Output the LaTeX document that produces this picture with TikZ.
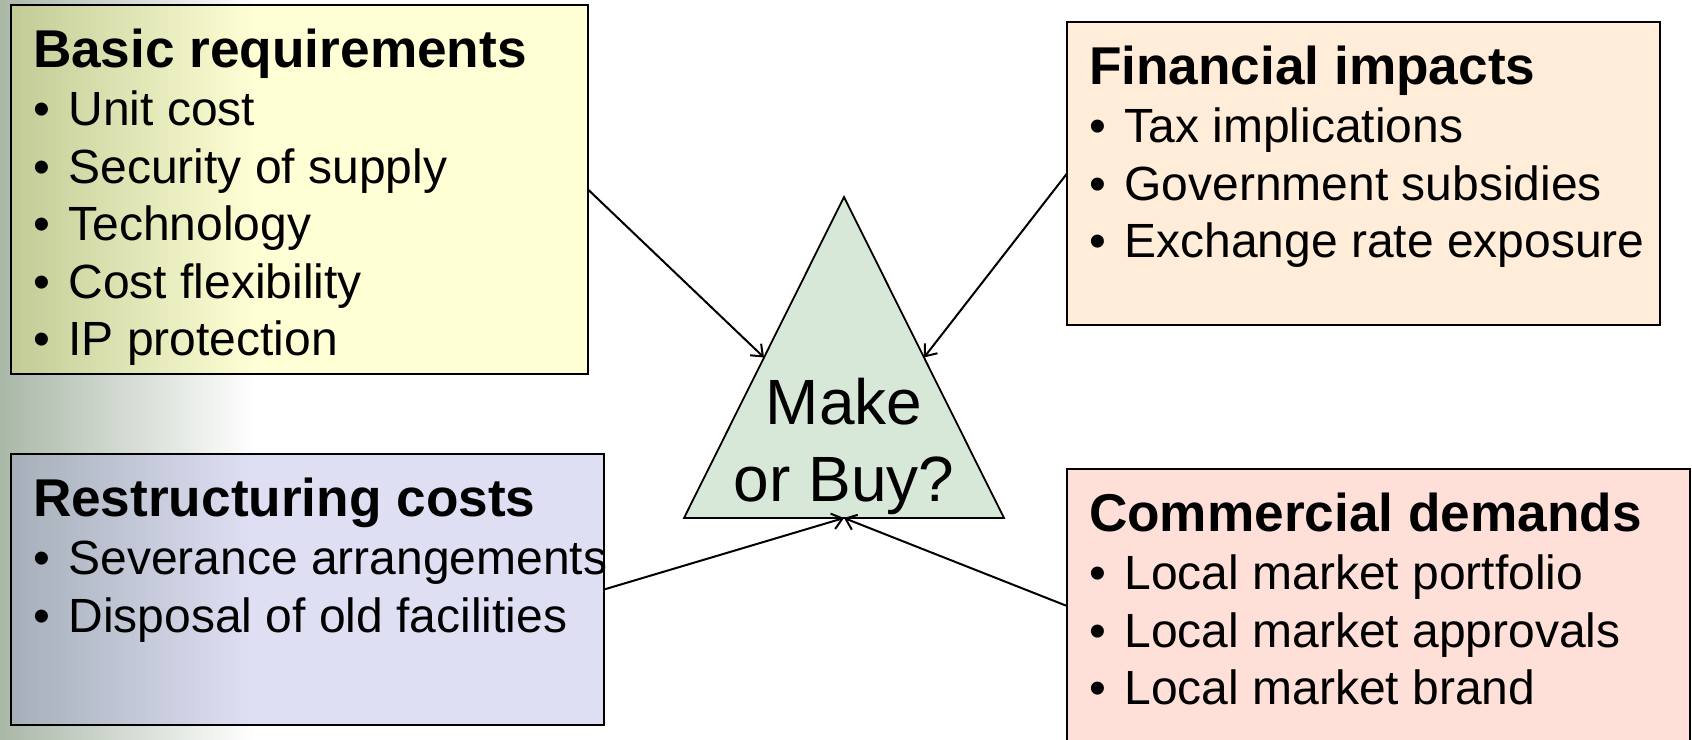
\documentclass[tikz,border=0pt]{standalone}
\usepackage{fontspec}
\setmainfont{Liberation Sans}
\usetikzlibrary{shapes.geometric, arrows.meta, positioning}
\definecolor{bgleft}{RGB}{170,184,168}
\definecolor{basicfill}{RGB}{255,255,88}
\definecolor{restructfill}{RGB}{148,148,220}
\definecolor{financefill}{RGB}{255,237,217}
\definecolor{commercefill}{RGB}{255,224,216}
\definecolor{decisionfill}{RGB}{216,232,216}
\tikzstyle{factor} = [rectangle, draw=black, line width=1pt, anchor=north west, inner sep=0pt, outer sep=0pt]
\tikzstyle{factortext} = [anchor=north west, align=left, inner sep=0pt, font=\fontsize{24}{28.8}\selectfont, xshift=10.8pt, yshift=-11.1pt]
\tikzstyle{decisionshape} = [isosceles triangle, shape border rotate=90, isosceles triangle stretches, minimum width=160pt, minimum height=160.5pt, inner sep=0pt, outer sep=0pt, draw=black, line width=0.9pt, fill=decisionfill]
\tikzstyle{arrow} = [line width=1pt, ->, >={Straight Barb[length=5pt,width=8pt]}]
\newcommand{\btitle}[1]{\strut{\fontsize{26.6}{28.8}\selectfont\bfseries #1}}
\newcommand{\bitem}{\makebox[17.7pt][l]{\textbullet}}

\begin{document}
\begin{tikzpicture}[x=0.5pt, y=-0.5pt]
        \useasboundingbox (0,0) rectangle (1692,739);
        \fill [white] (0,0) rectangle (1692,739);
        \shade [left color=bgleft, right color=white] (0,0) rectangle (255,739);

        \node (basic) [factor, fill=basicfill, fill opacity=0.25, minimum width=288.5pt, minimum height=184.5pt] at (11,5) {};
        \node (restruct) [factor, fill=restructfill, fill opacity=0.29, minimum width=296.5pt, minimum height=135.5pt] at (11,454) {};
        \node (finance) [factor, fill=financefill, minimum width=296.5pt, minimum height=151.5pt] at (1067,22) {};
        \node (commerce) [factor, fill=commercefill, minimum width=311.5pt, minimum height=137pt] at (1067,469) {};
        \node (decision) [decisionshape, anchor=lower side] at (844,518) {};

        \node (basic text) [factortext] at (basic.north west) {\btitle{Basic requirements}\\
            \bitem Unit cost\\ \bitem Security of supply\\ \bitem Technology\\ \bitem Cost flexibility\\ \bitem IP protection};
        \node (restruct text) [factortext] at (restruct.north west) {\btitle{Restructuring costs}\\
            \bitem Severance arrangements\\ \bitem Disposal of old facilities};
        \node (finance text) [factortext] at (finance.north west) {\btitle{Financial impacts}\\
            \bitem Tax implications\\ \bitem Government subsidies\\ \bitem Exchange rate exposure};
        \node (commerce text) [factortext] at (commerce.north west) {\btitle{Commercial demands}\\
            \bitem Local market portfolio\\ \bitem Local market approvals\\ \bitem Local market brand};
        \node (decision text) [align=center, inner sep=0pt, anchor=south, font=\fontsize{32}{38.4}\selectfont] at ([yshift=1.3pt]decision.lower side) {Make\\or Buy?};

        \draw [arrow] (basic.east) -- (decision.left side);
        \draw [arrow] (finance.west) -- (decision.right side);
        \draw [arrow] (restruct.east) -- (decision.lower side);
        \draw [arrow] (commerce.west) -- (decision.lower side);
    \end{tikzpicture}
\end{document}
